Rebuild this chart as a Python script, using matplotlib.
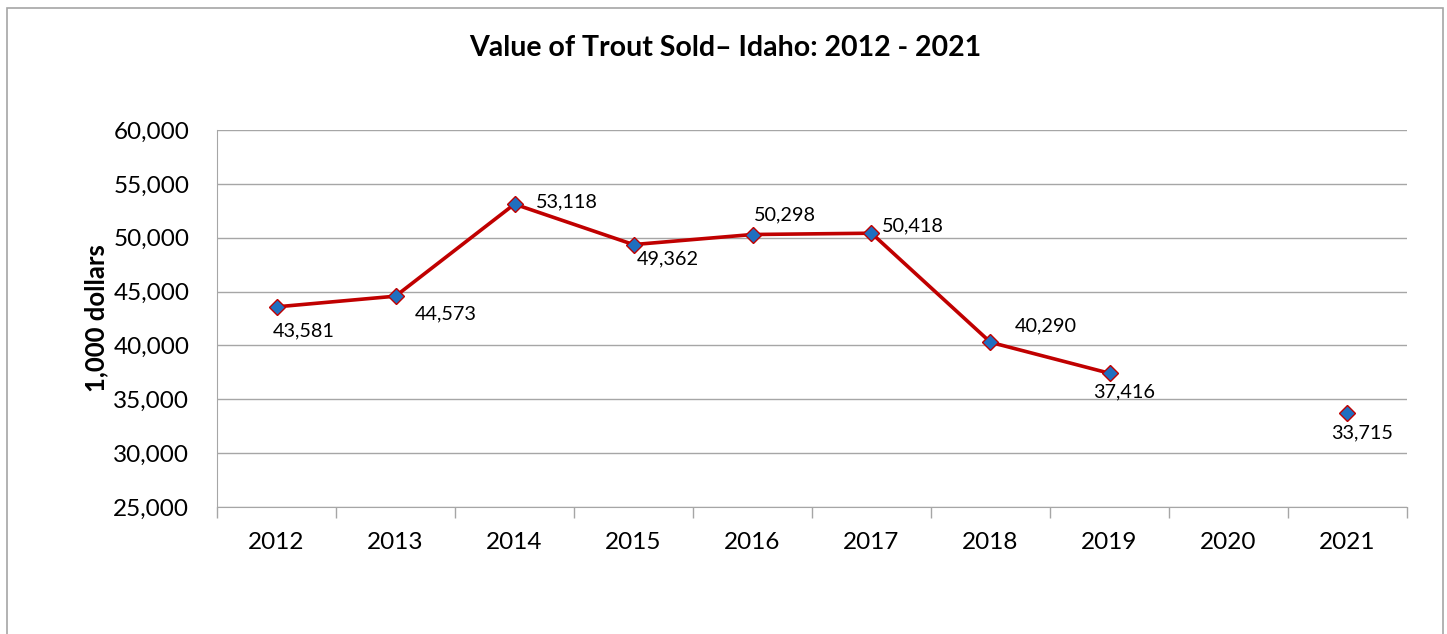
import numpy as np
import matplotlib.pyplot as plt
from matplotlib.patches import Rectangle

# Данные графика
years = ["2012", "2013", "2014", "2015", "2016", "2017", "2018", "2019", "2020", "2021"]
values = [43581, 44573, 53118, 49362, 50298, 50418, 40290, 37416, np.nan, 33715]
# смещения подписей (в пикселях)
label_offsets = [(27, -24), (50, -18), (52, 2), (34, -14), (32, 20), (41, 7),
                 (55, 16), (15, -19), None, (15, -20)]

plt.rcParams['font.family'] = ['Lato', 'DejaVu Sans']

W, H = 1447, 634
fig = plt.figure(figsize=(W / 100, H / 100), dpi=100)

# Рамка диаграммы
fig.patches.append(Rectangle((7 / W, -0.05), (1443 - 7) / W, 1 - 8 / H + 0.05,
                             transform=fig.transFigure, fill=False,
                             edgecolor='#a6a6a6', linewidth=1.2))

left, right, top, bottom = 217, 1407, 130, 507
ax = fig.add_axes([left / W, 1 - bottom / H, (right - left) / W, (bottom - top) / H])

x = np.arange(len(years))
ax.plot(x, values, color='#C00000', linewidth=2.6, zorder=3)
ax.plot(x, values, linestyle='none', marker='D', markersize=8,
        markerfacecolor='#1F6FC0', markeredgecolor='#C00000', markeredgewidth=1, zorder=4)

for i, v in enumerate(values):
    if np.isnan(v):
        continue
    ax.annotate(f"{int(v):,}", (x[i], v), xytext=label_offsets[i], textcoords='offset pixels',
                ha='center', va='center', fontsize=14.3, color='black')

ax.set_xlim(-0.5, len(years) - 0.5)
ax.set_ylim(25000, 60000)
ax.set_yticks(np.arange(25000, 60001, 5000))
ax.set_yticklabels([f"{t:,}" for t in range(25000, 60001, 5000)], fontsize=17.5)
ax.set_xticks(x)
ax.set_xticklabels(years, fontsize=17.5)
ax.set_xticks(np.arange(-0.5, len(years)), minor=True)

ax.tick_params(axis='x', which='major', length=0, pad=18)
ax.tick_params(axis='x', which='minor', length=8, color='#a6a6a6', width=1)
ax.tick_params(axis='y', length=0, pad=20)
ax.grid(axis='y', color='#a6a6a6', linewidth=1)
ax.set_axisbelow(True)
for s in ['top', 'right']:
    ax.spines[s].set_visible(False)
for s in ['left', 'bottom']:
    ax.spines[s].set_color('#a6a6a6')

ax.set_ylabel("1,000 dollars", fontsize=18.5, fontweight='bold', labelpad=4)
fig.text(725 / W, 1 - 48 / H, "Value of Trout Sold\u2013 Idaho: 2012 - 2021",
         ha='center', va='center', fontsize=20.5, fontweight='bold')

fig.savefig("out.png", dpi=100)
